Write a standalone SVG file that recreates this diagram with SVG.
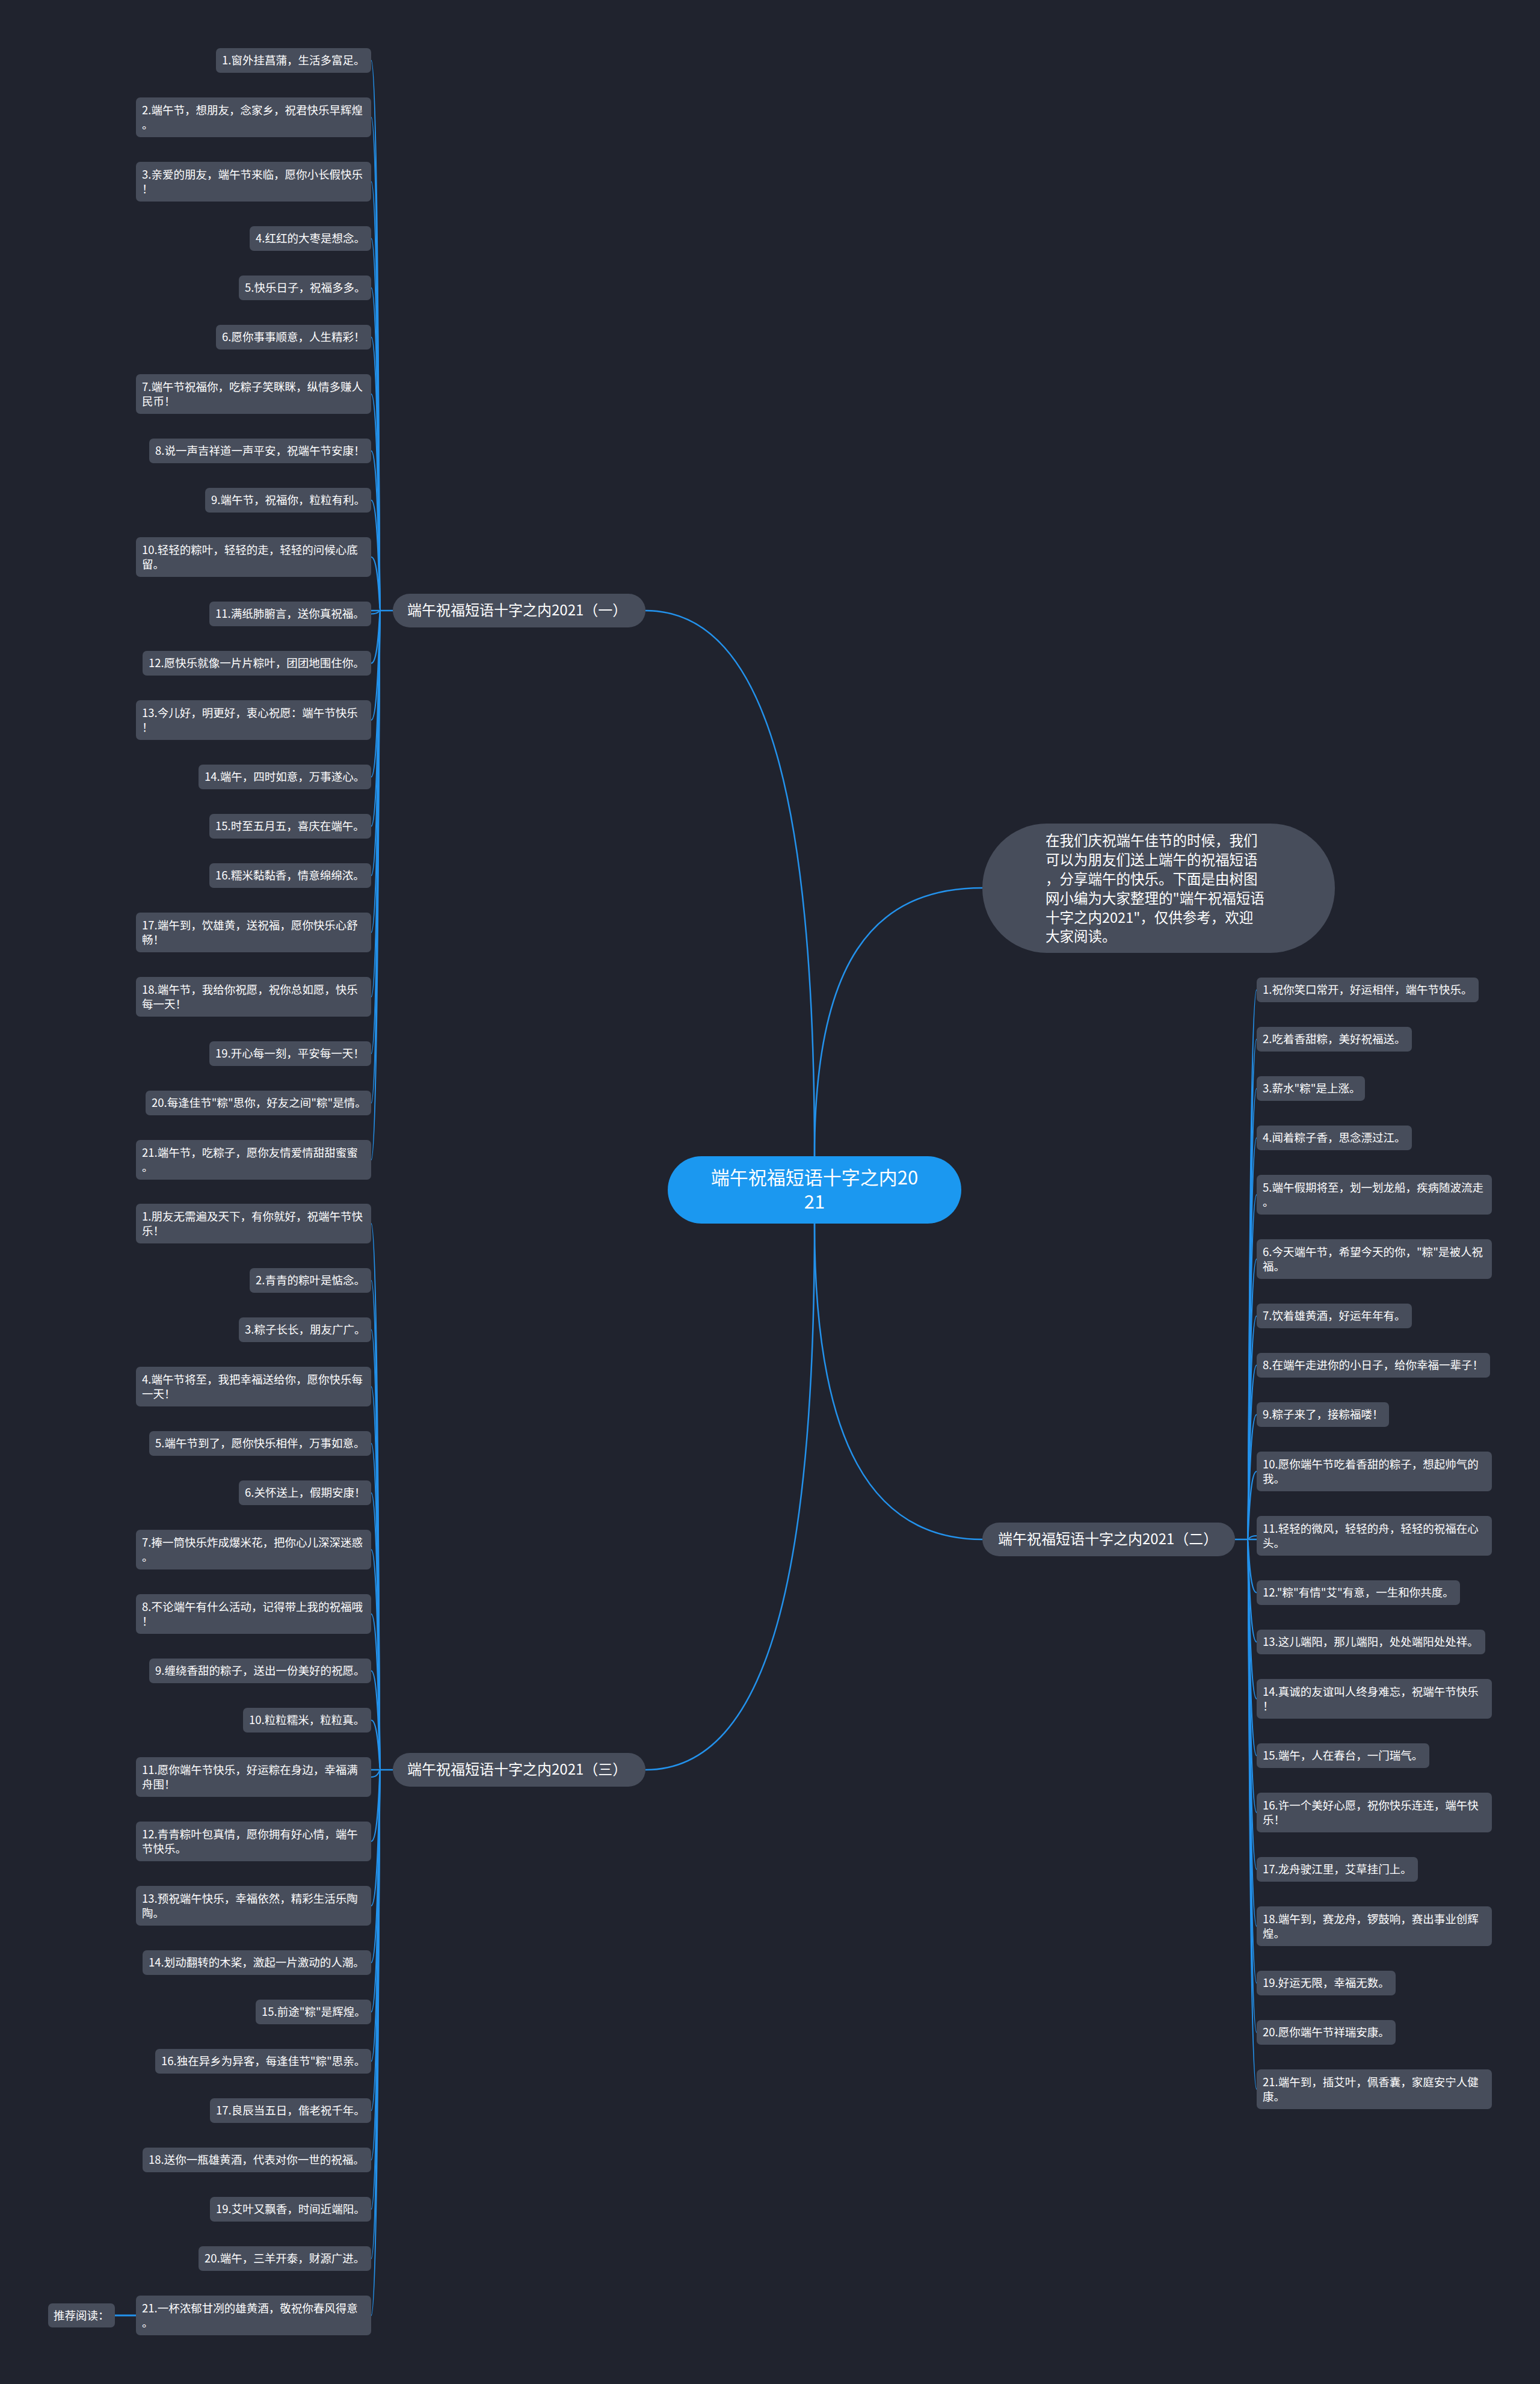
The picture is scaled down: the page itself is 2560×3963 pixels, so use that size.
<svg xmlns="http://www.w3.org/2000/svg" width="2560" height="3963" viewBox="0 0 2560 3963">
<style>
.bg{fill:#20232e}
.leaf{fill:#474d5b}
.t{fill:#ffffff;font-family:"Noto Sans CJK SC","Noto Sans",sans-serif;font-size:18.5px}
.lt{fill:#ffffff;font-family:"Noto Sans CJK SC","Noto Sans",sans-serif;font-size:24px}
.it{fill:#ffffff;font-family:"Noto Sans CJK SC","Noto Sans",sans-serif;font-size:23.5px}
.ct{fill:#ffffff;font-family:"Noto Sans CJK SC","Noto Sans",sans-serif;font-size:31px}
.c{fill:none;stroke:#2392ec;stroke-width:2}
.m{fill:none;stroke:#2392ec;stroke-width:2.5}
</style>
<rect class="bg" x="0" y="0" width="2560" height="3963"/>
<g id="connectors">
<path class="m" d="M1354 1922 C1354 1350 1280 1015 1073 1015"/>
<path class="m" d="M1354 1922 C1354 1600 1450 1476 1633 1476"/>
<path class="m" d="M1354 2034 C1354 2400 1450 2559 1633 2559"/>
<path class="m" d="M1354 2034 C1354 2606 1280 2942 1073 2942"/>
<path class="m" d="M617 1015 L653 1015"/>
<path class="m" d="M617 2942 L653 2942"/>
<path class="m" d="M2053 2559 L2089 2559"/>
<path class="c" d="M617 100.5 C630 100.5 630 1015 632 1015"/>
<path class="c" d="M617 195 C630 195 630 1015 632 1015"/>
<path class="c" d="M617 302 C630 302 630 1015 632 1015"/>
<path class="c" d="M617 396.5 C630 396.5 630 1015 632 1015"/>
<path class="c" d="M617 478.5 C630 478.5 630 1015 632 1015"/>
<path class="c" d="M617 560.5 C630 560.5 630 1015 632 1015"/>
<path class="c" d="M617 655 C630 655 630 1015 632 1015"/>
<path class="c" d="M617 749.5 C630 749.5 630 1015 632 1015"/>
<path class="c" d="M617 831.5 C630 831.5 630 1015 632 1015"/>
<path class="c" d="M617 926 C630 926 630 1015 632 1015"/>
<path class="c" d="M617 1020.5 C630 1020.5 630 1015 632 1015"/>
<path class="c" d="M617 1102.5 C630 1102.5 630 1015 632 1015"/>
<path class="c" d="M617 1197 C630 1197 630 1015 632 1015"/>
<path class="c" d="M617 1291.5 C630 1291.5 630 1015 632 1015"/>
<path class="c" d="M617 1373.5 C630 1373.5 630 1015 632 1015"/>
<path class="c" d="M617 1455.5 C630 1455.5 630 1015 632 1015"/>
<path class="c" d="M617 1550 C630 1550 630 1015 632 1015"/>
<path class="c" d="M617 1657 C630 1657 630 1015 632 1015"/>
<path class="c" d="M617 1751.5 C630 1751.5 630 1015 632 1015"/>
<path class="c" d="M617 1833.5 C630 1833.5 630 1015 632 1015"/>
<path class="c" d="M617 1928 C630 1928 630 1015 632 1015"/>
<path class="c" d="M617 2034 C630 2034 630 2942 632 2942"/>
<path class="c" d="M617 2128.5 C630 2128.5 630 2942 632 2942"/>
<path class="c" d="M617 2210.5 C630 2210.5 630 2942 632 2942"/>
<path class="c" d="M617 2305 C630 2305 630 2942 632 2942"/>
<path class="c" d="M617 2399.5 C630 2399.5 630 2942 632 2942"/>
<path class="c" d="M617 2481.5 C630 2481.5 630 2942 632 2942"/>
<path class="c" d="M617 2576 C630 2576 630 2942 632 2942"/>
<path class="c" d="M617 2683 C630 2683 630 2942 632 2942"/>
<path class="c" d="M617 2777.5 C630 2777.5 630 2942 632 2942"/>
<path class="c" d="M617 2859.5 C630 2859.5 630 2942 632 2942"/>
<path class="c" d="M617 2954 C630 2954 630 2942 632 2942"/>
<path class="c" d="M617 3061 C630 3061 630 2942 632 2942"/>
<path class="c" d="M617 3168 C630 3168 630 2942 632 2942"/>
<path class="c" d="M617 3262.5 C630 3262.5 630 2942 632 2942"/>
<path class="c" d="M617 3344.5 C630 3344.5 630 2942 632 2942"/>
<path class="c" d="M617 3426.5 C630 3426.5 630 2942 632 2942"/>
<path class="c" d="M617 3508.5 C630 3508.5 630 2942 632 2942"/>
<path class="c" d="M617 3590.5 C630 3590.5 630 2942 632 2942"/>
<path class="c" d="M617 3672.5 C630 3672.5 630 2942 632 2942"/>
<path class="c" d="M617 3754.5 C630 3754.5 630 2942 632 2942"/>
<path class="c" d="M617 3849 C630 3849 630 2942 632 2942"/>
<path class="c" d="M2089 1645.5 C2076 1645.5 2076 2559 2074 2559"/>
<path class="c" d="M2089 1727.5 C2076 1727.5 2076 2559 2074 2559"/>
<path class="c" d="M2089 1809.5 C2076 1809.5 2076 2559 2074 2559"/>
<path class="c" d="M2089 1891.5 C2076 1891.5 2076 2559 2074 2559"/>
<path class="c" d="M2089 1986 C2076 1986 2076 2559 2074 2559"/>
<path class="c" d="M2089 2093 C2076 2093 2076 2559 2074 2559"/>
<path class="c" d="M2089 2187.5 C2076 2187.5 2076 2559 2074 2559"/>
<path class="c" d="M2089 2269.5 C2076 2269.5 2076 2559 2074 2559"/>
<path class="c" d="M2089 2351.5 C2076 2351.5 2076 2559 2074 2559"/>
<path class="c" d="M2089 2446 C2076 2446 2076 2559 2074 2559"/>
<path class="c" d="M2089 2553 C2076 2553 2076 2559 2074 2559"/>
<path class="c" d="M2089 2647.5 C2076 2647.5 2076 2559 2074 2559"/>
<path class="c" d="M2089 2729.5 C2076 2729.5 2076 2559 2074 2559"/>
<path class="c" d="M2089 2824 C2076 2824 2076 2559 2074 2559"/>
<path class="c" d="M2089 2918.5 C2076 2918.5 2076 2559 2074 2559"/>
<path class="c" d="M2089 3013 C2076 3013 2076 2559 2074 2559"/>
<path class="c" d="M2089 3107.5 C2076 3107.5 2076 2559 2074 2559"/>
<path class="c" d="M2089 3202 C2076 3202 2076 2559 2074 2559"/>
<path class="c" d="M2089 3296.5 C2076 3296.5 2076 2559 2074 2559"/>
<path class="c" d="M2089 3378.5 C2076 3378.5 2076 2559 2074 2559"/>
<path class="c" d="M2089 3473 C2076 3473 2076 2559 2074 2559"/>
<path class="m" d="M191 3849 L226 3849" style="stroke-width:3"/>
</g>
<g id="center">
<rect x="1110" y="1922" width="488" height="112" rx="56" fill="#1b98f0"/>
<text class="ct" x="1354" y="1969" text-anchor="middle">端午祝福短语十字之内20</text>
<text class="ct" x="1354" y="2009" text-anchor="middle">21</text>
</g>
<g id="intro">
<rect class="leaf" x="1633" y="1369" width="586" height="215" rx="107"/>
<text class="it" x="1738" y="1406">在我们庆祝端午佳节的时候，我们</text>
<text class="it" x="1738" y="1438">可以为朋友们送上端午的祝福短语</text>
<text class="it" x="1738" y="1470">，分享端午的快乐。下面是由树图</text>
<text class="it" x="1738" y="1502">网小编为大家整理的"端午祝福短语</text>
<text class="it" x="1738" y="1534">十字之内2021"，仅供参考，欢迎</text>
<text class="it" x="1738" y="1565">大家阅读。</text>
</g>
<g id="branch1">
<rect class="leaf" x="653" y="987" width="420" height="56" rx="28"/>
<text class="lt" x="677" y="1023">端午祝福短语十字之内2021（一）</text>
</g>
<g id="branch2">
<rect class="leaf" x="1633" y="2531" width="420" height="56" rx="28"/>
<text class="lt" x="1659" y="2567">端午祝福短语十字之内2021（二）</text>
</g>
<g id="branch3">
<rect class="leaf" x="653" y="2914" width="420" height="56" rx="28"/>
<text class="lt" x="677" y="2950">端午祝福短语十字之内2021（三）</text>
</g>
<g id="g1n1"><rect class="leaf" x="359" y="80" width="258" height="41" rx="7"/><text class="t" x="369" y="107">1.窗外挂菖蒲，生活多富足。</text></g>
<g id="g1n2"><rect class="leaf" x="226" y="162" width="391" height="66" rx="7"/><text class="t" x="236" y="190">2.端午节，想朋友，念家乡，祝君快乐早辉煌</text><text class="t" x="236" y="214">。</text></g>
<g id="g1n3"><rect class="leaf" x="226" y="269" width="391" height="66" rx="7"/><text class="t" x="236" y="297">3.亲爱的朋友，端午节来临，愿你小长假快乐</text><text class="t" x="236" y="321">！</text></g>
<g id="g1n4"><rect class="leaf" x="415" y="376" width="202" height="41" rx="7"/><text class="t" x="425" y="403">4.红红的大枣是想念。</text></g>
<g id="g1n5"><rect class="leaf" x="397" y="458" width="220" height="41" rx="7"/><text class="t" x="407" y="485">5.快乐日子，祝福多多。</text></g>
<g id="g1n6"><rect class="leaf" x="359" y="540" width="258" height="41" rx="7"/><text class="t" x="369" y="567">6.愿你事事顺意，人生精彩！</text></g>
<g id="g1n7"><rect class="leaf" x="226" y="622" width="391" height="66" rx="7"/><text class="t" x="236" y="650">7.端午节祝福你，吃粽子笑眯眯，纵情多赚人</text><text class="t" x="236" y="674">民币！</text></g>
<g id="g1n8"><rect class="leaf" x="248" y="729" width="369" height="41" rx="7"/><text class="t" x="258" y="756">8.说一声吉祥道一声平安，祝端午节安康！</text></g>
<g id="g1n9"><rect class="leaf" x="341" y="811" width="276" height="41" rx="7"/><text class="t" x="351" y="838">9.端午节，祝福你，粒粒有利。</text></g>
<g id="g1n10"><rect class="leaf" x="226" y="893" width="391" height="66" rx="7"/><text class="t" x="236" y="921">10.轻轻的粽叶，轻轻的走，轻轻的问候心底</text><text class="t" x="236" y="945">留。</text></g>
<g id="g1n11"><rect class="leaf" x="348" y="1000" width="269" height="41" rx="7"/><text class="t" x="358" y="1027">11.满纸肺腑言，送你真祝福。</text></g>
<g id="g1n12"><rect class="leaf" x="237" y="1082" width="380" height="41" rx="7"/><text class="t" x="247" y="1109">12.愿快乐就像一片片粽叶，团团地围住你。</text></g>
<g id="g1n13"><rect class="leaf" x="226" y="1164" width="391" height="66" rx="7"/><text class="t" x="236" y="1192">13.今儿好，明更好，衷心祝愿：端午节快乐</text><text class="t" x="236" y="1216">！</text></g>
<g id="g1n14"><rect class="leaf" x="330" y="1271" width="287" height="41" rx="7"/><text class="t" x="340" y="1298">14.端午，四时如意，万事遂心。</text></g>
<g id="g1n15"><rect class="leaf" x="348" y="1353" width="269" height="41" rx="7"/><text class="t" x="358" y="1380">15.时至五月五，喜庆在端午。</text></g>
<g id="g1n16"><rect class="leaf" x="348" y="1435" width="269" height="41" rx="7"/><text class="t" x="358" y="1462">16.糯米黏黏香，情意绵绵浓。</text></g>
<g id="g1n17"><rect class="leaf" x="226" y="1517" width="391" height="66" rx="7"/><text class="t" x="236" y="1545">17.端午到，饮雄黄，送祝福，愿你快乐心舒</text><text class="t" x="236" y="1569">畅！</text></g>
<g id="g1n18"><rect class="leaf" x="226" y="1624" width="391" height="66" rx="7"/><text class="t" x="236" y="1652">18.端午节，我给你祝愿，祝你总如愿，快乐</text><text class="t" x="236" y="1676">每一天！</text></g>
<g id="g1n19"><rect class="leaf" x="348" y="1731" width="269" height="41" rx="7"/><text class="t" x="358" y="1758">19.开心每一刻，平安每一天！</text></g>
<g id="g1n20"><rect class="leaf" x="242" y="1813" width="375" height="41" rx="7"/><text class="t" x="252" y="1840">20.每逢佳节"粽"思你，好友之间"粽"是情。</text></g>
<g id="g1n21"><rect class="leaf" x="226" y="1895" width="391" height="66" rx="7"/><text class="t" x="236" y="1923">21.端午节，吃粽子，愿你友情爱情甜甜蜜蜜</text><text class="t" x="236" y="1947">。</text></g>
<g id="g3n1"><rect class="leaf" x="226" y="2001" width="391" height="66" rx="7"/><text class="t" x="236" y="2029">1.朋友无需遍及天下，有你就好，祝端午节快</text><text class="t" x="236" y="2053">乐！</text></g>
<g id="g3n2"><rect class="leaf" x="415" y="2108" width="202" height="41" rx="7"/><text class="t" x="425" y="2135">2.青青的粽叶是惦念。</text></g>
<g id="g3n3"><rect class="leaf" x="397" y="2190" width="220" height="41" rx="7"/><text class="t" x="407" y="2217">3.粽子长长，朋友广广。</text></g>
<g id="g3n4"><rect class="leaf" x="226" y="2272" width="391" height="66" rx="7"/><text class="t" x="236" y="2300">4.端午节将至，我把幸福送给你，愿你快乐每</text><text class="t" x="236" y="2324">一天！</text></g>
<g id="g3n5"><rect class="leaf" x="248" y="2379" width="369" height="41" rx="7"/><text class="t" x="258" y="2406">5.端午节到了，愿你快乐相伴，万事如意。</text></g>
<g id="g3n6"><rect class="leaf" x="397" y="2461" width="220" height="41" rx="7"/><text class="t" x="407" y="2488">6.关怀送上，假期安康！</text></g>
<g id="g3n7"><rect class="leaf" x="226" y="2543" width="391" height="66" rx="7"/><text class="t" x="236" y="2571">7.捧一筒快乐炸成爆米花，把你心儿深深迷惑</text><text class="t" x="236" y="2595">。</text></g>
<g id="g3n8"><rect class="leaf" x="226" y="2650" width="391" height="66" rx="7"/><text class="t" x="236" y="2678">8.不论端午有什么活动，记得带上我的祝福哦</text><text class="t" x="236" y="2702">！</text></g>
<g id="g3n9"><rect class="leaf" x="248" y="2757" width="369" height="41" rx="7"/><text class="t" x="258" y="2784">9.缠绕香甜的粽子，送出一份美好的祝愿。</text></g>
<g id="g3n10"><rect class="leaf" x="404" y="2839" width="213" height="41" rx="7"/><text class="t" x="414" y="2866">10.粒粒糯米，粒粒真。</text></g>
<g id="g3n11"><rect class="leaf" x="226" y="2921" width="391" height="66" rx="7"/><text class="t" x="236" y="2949">11.愿你端午节快乐，好运粽在身边，幸福满</text><text class="t" x="236" y="2973">舟围！</text></g>
<g id="g3n12"><rect class="leaf" x="226" y="3028" width="391" height="66" rx="7"/><text class="t" x="236" y="3056">12.青青粽叶包真情，愿你拥有好心情，端午</text><text class="t" x="236" y="3080">节快乐。</text></g>
<g id="g3n13"><rect class="leaf" x="226" y="3135" width="391" height="66" rx="7"/><text class="t" x="236" y="3163">13.预祝端午快乐，幸福依然，精彩生活乐陶</text><text class="t" x="236" y="3187">陶。</text></g>
<g id="g3n14"><rect class="leaf" x="237" y="3242" width="380" height="41" rx="7"/><text class="t" x="247" y="3269">14.划动翻转的木桨，激起一片激动的人潮。</text></g>
<g id="g3n15"><rect class="leaf" x="425" y="3324" width="192" height="41" rx="7"/><text class="t" x="435" y="3351">15.前途"粽"是辉煌。</text></g>
<g id="g3n16"><rect class="leaf" x="258" y="3406" width="359" height="41" rx="7"/><text class="t" x="268" y="3433">16.独在异乡为异客，每逢佳节"粽"思亲。</text></g>
<g id="g3n17"><rect class="leaf" x="349" y="3488" width="268" height="41" rx="7"/><text class="t" x="359" y="3515">17.良辰当五日，偕老祝千年。</text></g>
<g id="g3n18"><rect class="leaf" x="237" y="3570" width="380" height="41" rx="7"/><text class="t" x="247" y="3597">18.送你一瓶雄黄酒，代表对你一世的祝福。</text></g>
<g id="g3n19"><rect class="leaf" x="349" y="3652" width="268" height="41" rx="7"/><text class="t" x="359" y="3679">19.艾叶又飘香，时间近端阳。</text></g>
<g id="g3n20"><rect class="leaf" x="330" y="3734" width="287" height="41" rx="7"/><text class="t" x="340" y="3761">20.端午，三羊开泰，财源广进。</text></g>
<g id="g3n21"><rect class="leaf" x="226" y="3816" width="391" height="66" rx="7"/><text class="t" x="236" y="3844">21.一杯浓郁甘冽的雄黄酒，敬祝你春风得意</text><text class="t" x="236" y="3868">。</text></g>
<g id="recommend"><rect class="leaf" x="80" y="3829" width="111" height="40" rx="7"/><text class="t" x="89" y="3856">推荐阅读：</text></g>
<g id="g2n1"><rect class="leaf" x="2089" y="1625" width="369" height="41" rx="7"/><text class="t" x="2099" y="1652">1.祝你笑口常开，好运相伴，端午节快乐。</text></g>
<g id="g2n2"><rect class="leaf" x="2089" y="1707" width="258" height="41" rx="7"/><text class="t" x="2099" y="1734">2.吃着香甜粽，美好祝福送。</text></g>
<g id="g2n3"><rect class="leaf" x="2089" y="1789" width="180" height="41" rx="7"/><text class="t" x="2099" y="1816">3.薪水"粽"是上涨。</text></g>
<g id="g2n4"><rect class="leaf" x="2089" y="1871" width="258" height="41" rx="7"/><text class="t" x="2099" y="1898">4.闻着粽子香，思念漂过江。</text></g>
<g id="g2n5"><rect class="leaf" x="2089" y="1953" width="391" height="66" rx="7"/><text class="t" x="2099" y="1981">5.端午假期将至，划一划龙船，疾病随波流走</text><text class="t" x="2099" y="2005">。</text></g>
<g id="g2n6"><rect class="leaf" x="2089" y="2060" width="391" height="66" rx="7"/><text class="t" x="2099" y="2088">6.今天端午节，希望今天的你，"粽"是被人祝</text><text class="t" x="2099" y="2112">福。</text></g>
<g id="g2n7"><rect class="leaf" x="2089" y="2167" width="258" height="41" rx="7"/><text class="t" x="2099" y="2194">7.饮着雄黄酒，好运年年有。</text></g>
<g id="g2n8"><rect class="leaf" x="2089" y="2249" width="388" height="41" rx="7"/><text class="t" x="2099" y="2276">8.在端午走进你的小日子，给你幸福一辈子！</text></g>
<g id="g2n9"><rect class="leaf" x="2089" y="2331" width="220" height="41" rx="7"/><text class="t" x="2099" y="2358">9.粽子来了，接粽福喽！</text></g>
<g id="g2n10"><rect class="leaf" x="2089" y="2413" width="391" height="66" rx="7"/><text class="t" x="2099" y="2441">10.愿你端午节吃着香甜的粽子，想起帅气的</text><text class="t" x="2099" y="2465">我。</text></g>
<g id="g2n11"><rect class="leaf" x="2089" y="2520" width="391" height="66" rx="7"/><text class="t" x="2099" y="2548">11.轻轻的微风，轻轻的舟，轻轻的祝福在心</text><text class="t" x="2099" y="2572">头。</text></g>
<g id="g2n12"><rect class="leaf" x="2089" y="2627" width="338" height="41" rx="7"/><text class="t" x="2099" y="2654">12."粽"有情"艾"有意，一生和你共度。</text></g>
<g id="g2n13"><rect class="leaf" x="2089" y="2709" width="380" height="41" rx="7"/><text class="t" x="2099" y="2736">13.这儿端阳，那儿端阳，处处端阳处处祥。</text></g>
<g id="g2n14"><rect class="leaf" x="2089" y="2791" width="391" height="66" rx="7"/><text class="t" x="2099" y="2819">14.真诚的友谊叫人终身难忘，祝端午节快乐</text><text class="t" x="2099" y="2843">！</text></g>
<g id="g2n15"><rect class="leaf" x="2089" y="2898" width="287" height="41" rx="7"/><text class="t" x="2099" y="2925">15.端午，人在春台，一门瑞气。</text></g>
<g id="g2n16"><rect class="leaf" x="2089" y="2980" width="391" height="66" rx="7"/><text class="t" x="2099" y="3008">16.许一个美好心愿，祝你快乐连连，端午快</text><text class="t" x="2099" y="3032">乐！</text></g>
<g id="g2n17"><rect class="leaf" x="2089" y="3087" width="268" height="41" rx="7"/><text class="t" x="2099" y="3114">17.龙舟驶江里，艾草挂门上。</text></g>
<g id="g2n18"><rect class="leaf" x="2089" y="3169" width="391" height="66" rx="7"/><text class="t" x="2099" y="3197">18.端午到，赛龙舟，锣鼓响，赛出事业创辉</text><text class="t" x="2099" y="3221">煌。</text></g>
<g id="g2n19"><rect class="leaf" x="2089" y="3276" width="231" height="41" rx="7"/><text class="t" x="2099" y="3303">19.好运无限，幸福无数。</text></g>
<g id="g2n20"><rect class="leaf" x="2089" y="3358" width="231" height="41" rx="7"/><text class="t" x="2099" y="3385">20.愿你端午节祥瑞安康。</text></g>
<g id="g2n21"><rect class="leaf" x="2089" y="3440" width="391" height="66" rx="7"/><text class="t" x="2099" y="3468">21.端午到，插艾叶，佩香囊，家庭安宁人健</text><text class="t" x="2099" y="3492">康。</text></g>
</svg>
